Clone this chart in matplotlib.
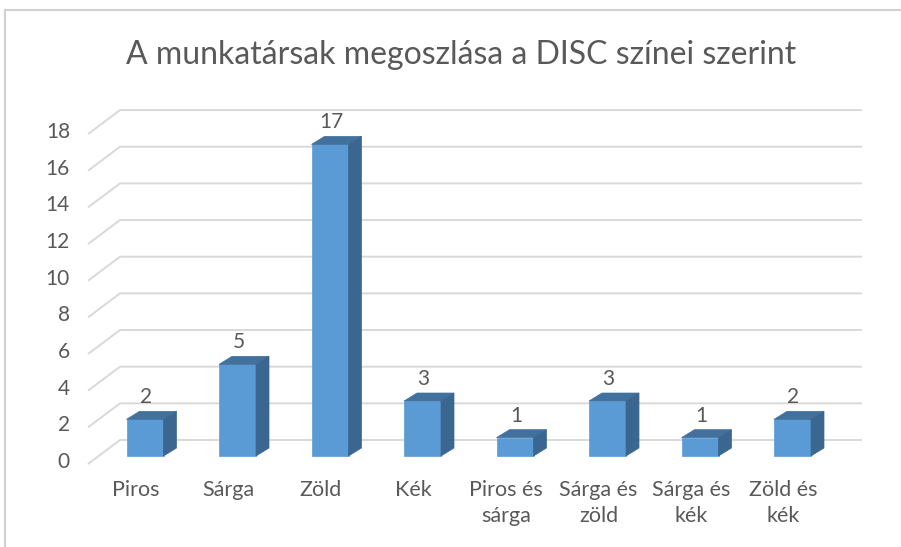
import matplotlib
matplotlib.use("Agg")
import matplotlib.pyplot as plt
from matplotlib.patches import Polygon, Rectangle
from matplotlib.lines import Line2D

categories = ["Piros", "Sárga", "Zöld", "Kék", "Piros és\nsárga",
              "Sárga és\nzöld", "Sárga és\nkék", "Zöld és\nkék"]
values = [2, 5, 17, 3, 1, 3, 1, 2]
yticks = [0, 2, 4, 6, 8, 10, 12, 14, 16, 18]
title = "A munkatársak megoszlása a DISC színei szerint"

FONT = ["Lato", "DejaVu Sans"]
TXT = "#595959"
GRID = "#d9d9d9"
FRONT = "#5b9bd5"
TOP = "#41719c"
SIDE = "#3a6690"

W, H = 901, 547
fig = plt.figure(figsize=(W / 100, H / 100), dpi=100)
ax = fig.add_axes([0, 0, 1, 1])
ax.set_axis_off()

# pixel mapping of the plot (category centre / value scale)
PX0, PXSTEP = 145.0, 92.5
PY0, PYSTEP = 456.0, 18.33
ax.set_xlim((0 - PX0) / PXSTEP, (W - PX0) / PXSTEP)
ax.set_ylim((PY0 - H) / PYSTEP, (PY0 - 0) / PYSTEP)

def ux(px):
    return px / PXSTEP

def uy(px):
    return px / PYSTEP

# chart border
fig.add_artist(Line2D([5 / W, 5 / W], [0, 1 - 10 / H], transform=fig.transFigure,
                      color="#d0d0d0", lw=1.5))
fig.add_artist(Line2D([5 / W, 1], [1 - 10 / H, 1 - 10 / H], transform=fig.transFigure,
                      color="#d0d0d0", lw=1.5))

# back wall gridlines and left oblique floor/wall lines
x_back_l = ux(120 - PX0)
x_back_r = ux(862 - PX0)
x_front_l = ux(88 - PX0)
dy_back = uy(16)
dy_front = uy(-8)
for v in yticks:
    ax.plot([x_front_l, x_back_l, x_back_r], [v + dy_front, v + dy_back, v + dy_back],
            color=GRID, lw=1.4, zorder=1, solid_capstyle="butt")
    ax.text(ux(70 - PX0), v + dy_front + uy(2), str(v), ha="right", va="center",
            fontsize=15, color=TXT, family=FONT)

# 3D bars
hw = ux(18.5)
dx = ux(13)
dy = uy(8)
for i, v in enumerate(values):
    ax.add_patch(Rectangle((i - hw, 0), 2 * hw, v, facecolor=FRONT, edgecolor=FRONT,
                           lw=0.5, zorder=3))
    ax.add_patch(Polygon([(i - hw, v), (i + hw, v), (i + hw + dx, v + dy), (i - hw + dx, v + dy)],
                         closed=True, facecolor=TOP, edgecolor=TOP, lw=0.5, zorder=3))
    ax.add_patch(Polygon([(i + hw, 0), (i + hw, v), (i + hw + dx, v + dy), (i + hw + dx, dy)],
                         closed=True, facecolor=SIDE, edgecolor=SIDE, lw=0.5, zorder=3))
    ax.text(i + ux(1), v + dy + uy(14), str(v), ha="center", va="center",
            fontsize=15, color=TXT, family=FONT, zorder=4)

# category labels
for i, c in enumerate(categories):
    ax.text(i - ux(9), uy(PY0 - 480), c, ha="center", va="top", fontsize=15.5,
            color=TXT, family=FONT, linespacing=1.38)

fig.text(461 / W, 1 - 55 / H, title, ha="center", va="center", fontsize=23,
         color=TXT, family=FONT)

fig.savefig("out.png", dpi=100)
